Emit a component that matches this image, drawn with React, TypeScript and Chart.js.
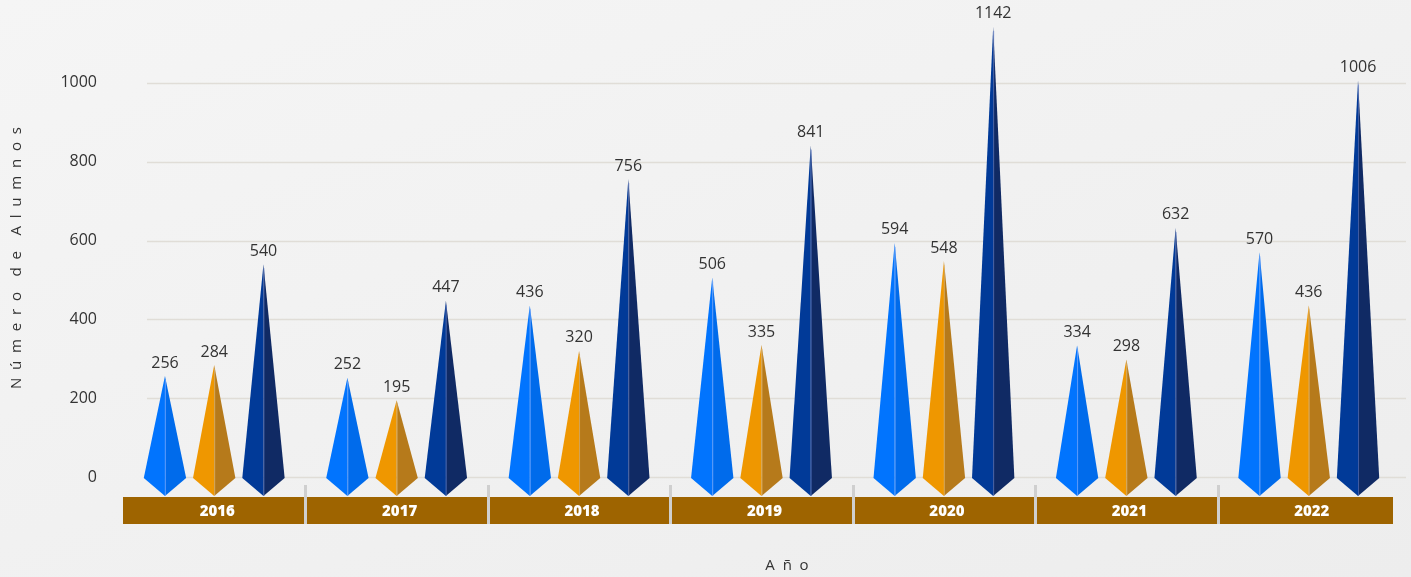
import React, { useEffect, useRef } from "react";
import { Chart, registerables } from "chart.js";

Chart.register(...registerables);

const years = ["2016", "2017", "2018", "2019", "2020", "2021", "2022"];
const seriesA = [256, 252, 436, 506, 594, 334, 570];
const seriesB = [284, 195, 320, 335, 548, 298, 436];
const seriesC = [540, 447, 756, 841, 1142, 632, 1006];
const yTicks = [0, 200, 400, 600, 800, 1000];

const FONT = "'Open Sans', 'DejaVu Sans', sans-serif";

const faceColors = [
  { left: "#0174FE", right: "#006BEB", line: "rgba(120,170,255,0.7)" },
  { left: "#EF9700", right: "#B67A1B", line: "rgba(230,190,120,0.6)" },
  { left: "#013A98", right: "#102A64", line: "rgba(90,120,200,0.6)" },
];

const pyramidPlugin = {
  id: "pyramids",
  beforeDatasetsDraw(chart: any) {
    const { ctx, chartArea, scales } = chart;
    const x = scales.x;
    const y = scales.y;
    ctx.save();
    ctx.strokeStyle = "#E0DDD7";
    ctx.lineWidth = 1.5;
    yTicks.forEach((v) => {
      const py = Math.round(y.getPixelForValue(v)) + 0.5;
      ctx.beginPath();
      ctx.moveTo(147, py);
      ctx.lineTo(chartArea.right + 6, py);
      ctx.stroke();
    });
    const bandTop = chartArea.bottom + 20;
    const bandH = 27;
    const left = chartArea.left;
    const right = chartArea.right - 7;
    ctx.fillStyle = "#9E6400";
    ctx.fillRect(left, bandTop, right - left, bandH);
    ctx.fillStyle = "#CFCFCF";
    for (let i = 0; i < years.length - 1; i++) {
      const sx = (x.getPixelForValue(i) + x.getPixelForValue(i + 1)) / 2;
      ctx.fillRect(Math.round(sx) - 1, chartArea.bottom + 8, 3, bandTop + bandH - chartArea.bottom - 8);
    }
    ctx.fillStyle = "#FFFFFF";
    ctx.font = `800 15px ${FONT}`;
    ctx.textAlign = "center";
    ctx.textBaseline = "middle";
    years.forEach((yr, i) => {
      ctx.fillText(yr, x.getPixelForValue(i) + 3, bandTop + bandH / 2 + 1);
    });
    ctx.restore();
  },
  afterDatasetsDraw(chart: any) {
    const { ctx, scales } = chart;
    const zeroY = scales.y.getPixelForValue(0) + 1;
    ctx.save();
    chart.data.datasets.forEach((ds: any, di: number) => {
      const meta = chart.getDatasetMeta(di);
      const c = faceColors[di];
      meta.data.forEach((bar: any, i: number) => {
        const cx = bar.x;
        const hw = bar.width / 2;
        const topY = bar.y;
        const botY = zeroY + 18;
        ctx.beginPath();
        ctx.moveTo(cx, topY);
        ctx.lineTo(cx - hw, zeroY);
        ctx.lineTo(cx, botY);
        ctx.closePath();
        ctx.fillStyle = c.left;
        ctx.fill();
        ctx.beginPath();
        ctx.moveTo(cx, topY);
        ctx.lineTo(cx + hw, zeroY);
        ctx.lineTo(cx, botY);
        ctx.closePath();
        ctx.fillStyle = c.right;
        ctx.fill();
        ctx.beginPath();
        ctx.moveTo(cx + 0.5, topY + 4);
        ctx.lineTo(cx + 0.5, botY);
        ctx.strokeStyle = c.line;
        ctx.lineWidth = 1;
        ctx.stroke();
        ctx.fillStyle = "#333333";
        ctx.font = `16px ${FONT}`;
        ctx.textAlign = "center";
        ctx.textBaseline = "middle";
        ctx.fillText(String(ds.data[i]), cx, topY - 13);
      });
    });
    ctx.fillStyle = "#333333";
    ctx.font = `15px ${FONT}`;
    ctx.textAlign = "center";
    ctx.textBaseline = "middle";
    ctx.fillText("A  ñ  o", 787, 566);
    ctx.save();
    ctx.translate(17, 258);
    ctx.rotate(-Math.PI / 2);
    ctx.fillText("N  ú  m  e  r  o    d  e    A  l  u  m  n  o  s", 0, 0);
    ctx.restore();
    ctx.restore();
  },
};

export default function App() {
  const ref = useRef<HTMLCanvasElement | null>(null);
  useEffect(() => {
    if (!ref.current) return;
    const chart = new Chart(ref.current, {
      type: "bar",
      data: {
        labels: years,
        datasets: [
          { label: "A", data: seriesA, backgroundColor: "rgba(0,0,0,0)" },
          { label: "B", data: seriesB, backgroundColor: "rgba(0,0,0,0)" },
          { label: "C", data: seriesC, backgroundColor: "rgba(0,0,0,0)" },
        ],
      },
      options: {
        animation: false,
        responsive: false,
        maintainAspectRatio: false,
        events: [],
        layout: { padding: { top: 9, right: 11, left: 0, bottom: 0 } },
        datasets: { bar: { categoryPercentage: 0.81, barPercentage: 0.86 } },
        plugins: { legend: { display: false }, tooltip: { enabled: false } },
        scales: {
          x: {
            grid: { display: false, drawTicks: false },
            border: { display: false },
            ticks: { display: false },
            afterFit(scale: any) {
              scale.height = 100;
            },
          },
          y: {
            min: 0,
            max: 1120,
            afterBuildTicks(scale: any) {
              scale.ticks = yTicks.map((v) => ({ value: v }));
            },
            grid: { display: false, drawTicks: false },
            border: { display: false },
            ticks: {
              color: "#333333",
              font: { family: FONT, size: 16 },
              padding: 26,
              callback: (v: any) => String(v),
            },
            afterFit(scale: any) {
              scale.width = 123;
            },
          },
        },
      },
      plugins: [pyramidPlugin],
    } as any);
    return () => chart.destroy();
  }, []);
  return (
    <div
      style={{
        position: "absolute",
        left: 0,
        top: 0,
        width: 1411,
        height: 577,
        background: "linear-gradient(160deg, #f5f5f5 0%, #f1f1f1 50%, #ededed 100%)",
      }}
    >
      <canvas ref={ref} width={1411} height={577} style={{ display: "block" }} />
    </div>
  );
}
